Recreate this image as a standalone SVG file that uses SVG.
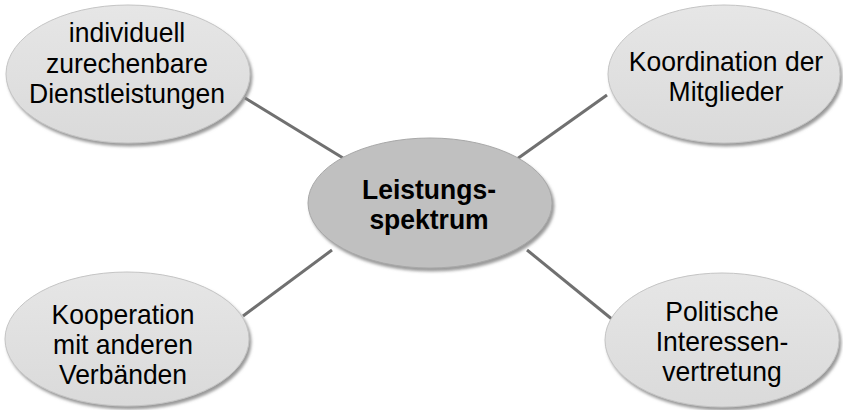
<svg xmlns="http://www.w3.org/2000/svg" width="843" height="410" viewBox="0 0 843 410">
<defs>
<filter id="sh" x="-10%" y="-10%" width="125%" height="130%">
<feDropShadow dx="2" dy="3" stdDeviation="1.5" flood-color="#808080" flood-opacity="0.8"/>
</filter>
<linearGradient id="g1" x1="0" y1="0" x2="0" y2="1">
<stop offset="0" stop-color="#e6e6e6"/>
<stop offset="1" stop-color="#dadada"/>
</linearGradient>
</defs>
<style>
.n{fill:url(#g1);stroke:#c4c4c4;stroke-width:1;filter:url(#sh)}
.c{fill:#c0c0c0;stroke:#a8a8a8;stroke-width:1;filter:url(#sh)}
.t{font-family:"Liberation Sans",Arial,sans-serif;font-size:26.5px;fill:#000;text-anchor:middle}
.b{font-weight:bold}
.l{stroke:#707070;stroke-width:3;fill:none}
</style>
<rect width="843" height="410" fill="#fff"/>
<g id="connectors">
<line class="l" x1="245" y1="98" x2="343" y2="158"/>
<line class="l" x1="607" y1="95" x2="517" y2="159"/>
<line class="l" x1="332" y1="250" x2="243" y2="316"/>
<line class="l" x1="527" y1="250" x2="613" y2="320"/>
</g>
<g id="n-center">
<ellipse class="c" cx="430" cy="203" rx="122" ry="65"/>
<text class="t b" transform="translate(429 199) scale(1 1.05)">Leistungs-</text>
<text class="t b" transform="translate(429 229) scale(1 1.05)">spektrum</text>
</g>
<g id="n-tl">
<ellipse class="n" cx="128" cy="74" rx="122" ry="69"/>
<text class="t" transform="translate(127 42) scale(1 1.05)">individuell</text>
<text class="t" transform="translate(127 73) scale(1 1.05)">zurechenbare</text>
<text class="t" transform="translate(127 103) scale(1 1.05)">Dienstleistungen</text>
</g>
<g id="n-tr">
<ellipse class="n" cx="724" cy="74" rx="116" ry="69"/>
<text class="t" transform="translate(726 71) scale(1 1.05)">Koordination der</text>
<text class="t" transform="translate(726 101) scale(1 1.05)">Mitglieder</text>
</g>
<g id="n-bl">
<ellipse class="n" cx="127" cy="339" rx="122" ry="67"/>
<text class="t" transform="translate(123 324) scale(1 1.05)">Kooperation</text>
<text class="t" transform="translate(123 354) scale(1 1.05)">mit anderen</text>
<text class="t" transform="translate(123 384) scale(1 1.05)">Verbänden</text>
</g>
<g id="n-br">
<ellipse class="n" cx="722" cy="340" rx="117" ry="67"/>
<text class="t" transform="translate(722 321) scale(1 1.05)">Politische</text>
<text class="t" transform="translate(722 351) scale(1 1.05)">Interessen-</text>
<text class="t" transform="translate(722 381) scale(1 1.05)">vertretung</text>
</g>
</svg>
